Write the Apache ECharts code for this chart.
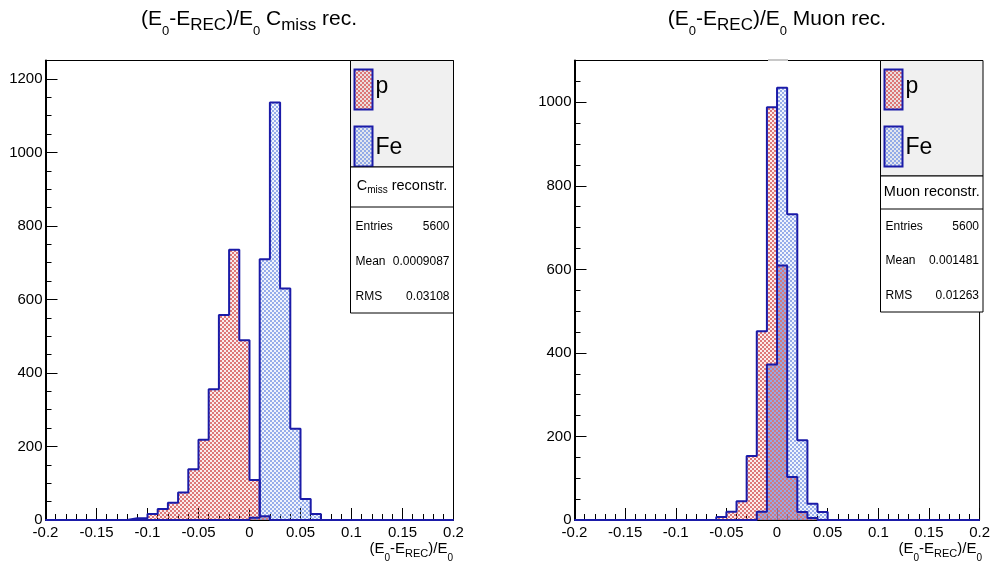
<!DOCTYPE html>
<html>
<head>
<meta charset="utf-8">
<script src="https://cdn.jsdelivr.net/npm/echarts@6/dist/echarts.min.js"></script>
<style>
  html, body { margin: 0; padding: 0; background: #fff; }
  #chart { width: 993px; height: 567px; }
</style>
</head>
<body>
<div id="chart"></div>
<script>
// Histogram binning: 40 bins of width 0.01 between -0.2 and 0.2
const LOW_EDGE = -0.2;
const BIN_WIDTH = 0.01;

// Energy resolution with the C_miss reconstruction (counts per bin)
const cmissProton = [
  0, 0, 0, 0, 0, 0, 0, 0, 5, 5,
  16, 30, 47, 75, 138, 218, 356, 558, 735, 489,
  109, 10, 0, 0, 0, 0, 0, 0, 0, 0,
  0, 0, 0, 0, 0, 0, 0, 0, 0, 0
];
const cmissIron = [
  0, 0, 0, 0, 0, 0, 0, 0, 0, 0,
  0, 0, 0, 0, 0, 0, 0, 0, 0, 0,
  6, 709, 1136, 630, 248, 57, 16, 0, 0, 0,
  0, 0, 0, 0, 0, 0, 0, 0, 0, 0
];

// Energy resolution with the muon reconstruction (counts per bin)
const muonProton = [
  0, 0, 0, 0, 0, 0, 0, 0, 0, 0,
  0, 0, 0, 0, 7, 20, 45, 153, 452, 988,
  609, 103, 19, 5, 0, 0, 0, 0, 0, 0,
  0, 0, 0, 0, 0, 0, 0, 0, 0, 0
];
const muonIron = [
  0, 0, 0, 0, 0, 0, 0, 0, 0, 0,
  0, 0, 0, 0, 0, 0, 0, 0, 20, 372,
  1035, 732, 191, 39, 19, 0, 0, 0, 0, 0,
  0, 0, 0, 0, 0, 0, 0, 0, 0, 0
];

const seriesNames = ['p', 'Fe'];
const cmissStats = [['Entries', '5600'], ['Mean', '0.0009087'], ['RMS', '0.03108']];
const muonStats = [['Entries', '5600'], ['Mean', '0.001481'], ['RMS', '0.01263']];
const yMaxCmiss = 1250;
const yMaxMuon = 1100;

const FONT = '"Liberation Sans", Arial, Helvetica, sans-serif';
const NAVY = '#1b1ba8';

// Fine checkerboard fill, like the ROOT hatch style
function checker(strong, weak, phase) {
  const c = document.createElement('canvas');
  c.width = 4; c.height = 4;
  const g = c.getContext('2d');
  for (let i = 0; i < 2; i++) {
    for (let j = 0; j < 2; j++) {
      g.fillStyle = ((i + j + phase) % 2 === 0) ? strong : weak;
      g.fillRect(i * 2, j * 2, 2, 2);
    }
  }
  return { image: c, repeat: 'repeat' };
}
const redFill = checker('rgba(216,100,100,0.88)', 'rgba(216,100,100,0.12)', 0);
const blueFill = checker('rgba(120,150,228,0.78)', 'rgba(120,150,228,0.10)', 1);

// Turn bin contents into the points of a step outline
function stepPoints(values) {
  const pts = values.map((v, i) => [+(LOW_EDGE + i * BIN_WIDTH).toFixed(4), v]);
  pts.push([+(LOW_EDGE + values.length * BIN_WIDTH).toFixed(4), values[values.length - 1]]);
  return pts;
}

function histSeries(name, values, fill, axisIdx) {
  return {
    type: 'line',
    name: name,
    xAxisIndex: axisIdx * 2,
    yAxisIndex: axisIdx * 2,
    data: stepPoints(values),
    step: 'end',
    symbol: 'none',
    silent: true,
    lineStyle: { color: NAVY, width: 2 },
    itemStyle: { color: NAVY },
    areaStyle: { color: fill, opacity: 1 },
    z: 3
  };
}

const xFmt = v => String(+(+v).toFixed(2));
const yFmt = v => String(Math.round(v));

function axesFor(gridIndex, yMax) {
  const x = [
    {
      type: 'value', gridIndex, position: 'bottom', min: -0.2, max: 0.2, interval: 0.05,
      axisLine: { show: true, onZero: false, lineStyle: { color: '#000', width: 1 } },
      axisTick: { show: true, inside: true, length: 12, lineStyle: { color: '#000', width: 1 } },
      axisLabel: { show: true, color: '#000', fontSize: 15, fontFamily: FONT, margin: 5, formatter: xFmt },
      splitLine: { show: false }
    },
    {
      type: 'value', gridIndex, position: 'bottom', min: -0.2, max: 0.2, interval: 0.01,
      axisLine: { show: false, onZero: false },
      axisTick: { show: true, inside: true, length: 6, lineStyle: { color: '#000', width: 1 } },
      axisLabel: { show: false },
      splitLine: { show: false }
    }
  ];
  const y = [
    {
      type: 'value', gridIndex, position: 'left', min: 0, max: yMax, interval: 200,
      axisLine: { show: true, onZero: false, lineStyle: { color: '#000', width: 2 } },
      axisTick: { show: true, inside: true, length: 12, lineStyle: { color: '#000', width: 1 } },
      axisLabel: { show: true, color: '#000', fontSize: 15, fontFamily: FONT, margin: 3, showMaxLabel: false, formatter: yFmt },
      splitLine: { show: false }
    },
    {
      type: 'value', gridIndex, position: 'left', min: 0, max: yMax, interval: 50,
      axisLine: { show: false, onZero: false },
      axisTick: { show: true, inside: true, length: 6, lineStyle: { color: '#000', width: 1 } },
      axisLabel: { show: false },
      splitLine: { show: false }
    }
  ];
  return { x, y };
}

const axA = axesFor(0, yMaxCmiss);
const axB = axesFor(1, yMaxMuon);

// Rich-text styles for formulas with subscripts
function formulaRich(main, sub, subDrop, zero, zeroDrop) {
  return {
    m: { fontSize: main, fontFamily: FONT, color: '#000' },
    s: { fontSize: sub, fontFamily: FONT, color: '#000', padding: [subDrop * 2, 0, 0, 0] },
    z: { fontSize: zero, fontFamily: FONT, color: '#000', padding: [zeroDrop * 2, 0, 0, 0] }
  };
}

function textEl(x, y, text, opts) {
  return {
    type: 'text', x, y, z: 100, silent: true,
    style: Object.assign({
      text, fill: '#000', font: '12px ' + FONT, align: 'left', verticalAlign: 'middle'
    }, opts || {})
  };
}

function rectEl(x, y, w, h, fill, stroke, lw) {
  return {
    type: 'rect', z: 100, silent: true,
    shape: { x, y, width: w, height: h },
    style: { fill, stroke, lineWidth: lw }
  };
}

// Legend panel + statistics box for one pad
function panel(box, titleRich, titleText, stats) {
  const els = [];
  els.push(rectEl(box.x, box.top, box.w, box.legH, '#f0f0f0', '#000', 1));
  els.push(rectEl(box.x + 4, box.top + 9, 18, 40, redFill, NAVY, 2));
  els.push(textEl(box.x + 25, box.top + 26, seriesNames[0], { font: '23px ' + FONT }));
  els.push(rectEl(box.x + 4, box.top + 66, 18, 40, blueFill, NAVY, 2));
  els.push(textEl(box.x + 25, box.top + 87, seriesNames[1], { font: '23px ' + FONT }));
  const sTop = box.top + box.legH;
  els.push(rectEl(box.x, sTop, box.w, box.statBottom - sTop, '#fff', '#000', 1));
  els.push({
    type: 'line', z: 101, silent: true,
    shape: { x1: box.x, y1: sTop + box.headH, x2: box.x + box.w, y2: sTop + box.headH },
    style: { stroke: '#000', lineWidth: 1 }
  });
  els.push(textEl(box.x + box.w / 2, sTop + box.headH / 2 - 1, titleText, { align: 'center', rich: titleRich }));
  stats.forEach((row, i) => {
    const y = box.rowY[i];
    els.push(textEl(box.x + 5, y, row[0], { font: '12px ' + FONT }));
    els.push(textEl(box.x + box.w - 4, y, row[1], { font: '12px ' + FONT, align: 'right' }));
  });
  return els;
}

const statRich = {
  m: { fontSize: 14.5, fontFamily: FONT, color: '#000' },
  s: { fontSize: 10, fontFamily: FONT, color: '#000', padding: [8, 0, 0, 0] }
};
const titleRich = formulaRich(21, 17, 6, 13, 12.5);
const axisTitleRich = formulaRich(15, 11, 4.5, 10, 9);

const graphics = [
  textEl(249, 19, '{m|(E}{z|0}{m|-E}{s|REC}{m|)/E}{z|0}{m| C}{s|miss}{m| rec.}', { align: 'center', rich: titleRich }),
  textEl(777, 19, '{m|(E}{z|0}{m|-E}{s|REC}{m|)/E}{z|0}{m| Muon rec.}', { align: 'center', rich: titleRich }),
  textEl(453, 549, '{m|(E}{z|0}{m|-E}{s|REC}{m|)/E}{z|0}', { align: 'right', rich: axisTitleRich }),
  textEl(982, 549, '{m|(E}{z|0}{m|-E}{s|REC}{m|)/E}{z|0}', { align: 'right', rich: axisTitleRich }),
  {
    type: 'line', z: 101, silent: true,
    shape: { x1: 768, y1: 60, x2: 788, y2: 60 },
    style: { stroke: '#c8c8c8', lineWidth: 2 }
  }
].concat(
  panel({ x: 350.5, top: 60.5, w: 103, legH: 106.5, headH: 40, statBottom: 313, rowY: [227, 262, 297] },
    statRich, '{m|C}{s|miss}{m| reconstr.}', cmissStats),
  panel({ x: 880.5, top: 60.5, w: 102.5, legH: 115.5, headH: 33, statBottom: 312, rowY: [227, 261, 296] },
    statRich, '{m|Muon reconstr.}', muonStats)
);

const chart = echarts.init(document.getElementById('chart'), null, { renderer: 'canvas' });
chart.setOption({
  animation: false,
  backgroundColor: '#fff',
  grid: [
    { left: 45.5, top: 60.5, width: 408, height: 459.5, show: true, borderColor: '#000', borderWidth: 1, backgroundColor: 'transparent' },
    { left: 574.5, top: 60.5, width: 408.5, height: 459.5, show: true, borderColor: '#000', borderWidth: 1, backgroundColor: 'transparent' }
  ],
  xAxis: axA.x.concat(axB.x),
  yAxis: axA.y.concat(axB.y),
  series: [
    histSeries(seriesNames[0], cmissProton, redFill, 0),
    histSeries(seriesNames[1], cmissIron, blueFill, 0),
    histSeries(seriesNames[0], muonProton, redFill, 1),
    histSeries(seriesNames[1], muonIron, blueFill, 1)
  ],
  graphic: graphics
});
</script>
</body>
</html>
